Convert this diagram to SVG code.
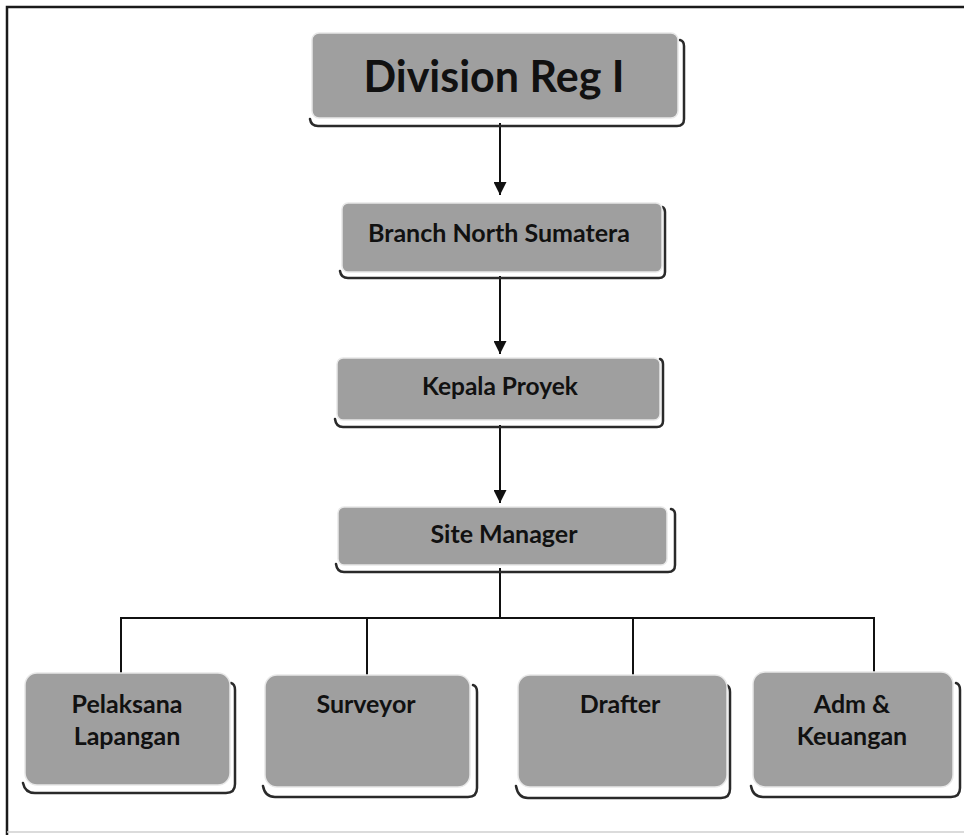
<svg xmlns="http://www.w3.org/2000/svg" width="964" height="835" viewBox="0 0 964 835">
<style>
.box{fill:#9f9f9f;stroke:#e8e8e8;stroke-width:1.5}
.sh{fill:none;stroke:#2a2a2a;stroke-width:2.5;stroke-linecap:round}
.t{font-family:Lato,"Liberation Sans",sans-serif;font-weight:bold;fill:#111111;text-anchor:middle}
.ln{fill:none;stroke:#111;stroke-width:2}
</style>
<defs>
<marker id="ah" markerWidth="15" markerHeight="13" refX="15" refY="7.5" orient="auto" markerUnits="userSpaceOnUse" viewBox="0 0 15 15">
<path d="M0,0 L15,7.5 L0,15 Z" fill="#111"/>
</marker>
</defs>
<rect width="964" height="835" fill="#ffffff"/>
<g id="frame">
<path d="M7,835 L7,7 L964,7" fill="none" stroke="#1a1a1a" stroke-width="2.5"/>
<line x1="7" y1="832" x2="964" y2="832" stroke="#cfcfcf" stroke-width="1.5"/>
</g>
<g id="connectors">
<line class="ln" x1="500" y1="123" x2="500" y2="195" marker-end="url(#ah)"/>
<line class="ln" x1="500" y1="276" x2="500" y2="354" marker-end="url(#ah)"/>
<line class="ln" x1="500" y1="425" x2="500" y2="503" marker-end="url(#ah)"/>
<line class="ln" x1="500" y1="568" x2="500" y2="618"/>
<line class="ln" x1="120" y1="618" x2="875" y2="618"/>
<line class="ln" x1="121" y1="618" x2="121" y2="673"/>
<line class="ln" x1="367" y1="618" x2="367" y2="675"/>
<line class="ln" x1="633" y1="618" x2="633" y2="675"/>
<line class="ln" x1="874" y1="618" x2="874" y2="672"/>
</g>
<g id="node-division">
<path class="sh" d="M310,119 Q311,126 318,126 L677,126 Q684,126 684,119 L684,46 Q684,41 680,40"/>
<rect class="box" x="312" y="33" width="366" height="85" rx="7"/>
<text class="t" x="494" y="92" font-size="43">Division Reg I</text>
</g>
<g id="node-branch">
<path class="sh" d="M340,271 Q341,278 348,278 L659,278 Q665,278 665,272 L665,212 Q665,208 662,207"/>
<rect class="box" x="342" y="203" width="320" height="69" rx="6"/>
<text class="t" x="499" y="242" font-size="25">Branch North Sumatera</text>
</g>
<g id="node-kepala">
<path class="sh" d="M335,419 Q336,427 343,427 L657,427 Q663,427 663,421 L663,364 Q663,360 660,359"/>
<rect class="box" x="337" y="358" width="323" height="62" rx="6"/>
<text class="t" x="500" y="395" font-size="24.5">Kepala Proyek</text>
</g>
<g id="node-site">
<path class="sh" d="M336,564 Q337,572 344,572 L668,572 Q675,572 675,565 L675,514 Q675,510 671,509"/>
<rect class="box" x="338" y="507" width="329" height="58" rx="6"/>
<text class="t" x="504" y="543" font-size="25">Site Manager</text>
</g>
<g id="node-pelaksana">
<path class="sh" d="M23,783 Q25,793 35,793 L226,793 Q235,793 235,784 L235,690 Q235,684 231,683"/>
<rect class="box" x="25" y="673" width="205" height="112" rx="12"/>
<text class="t" x="127" y="713" font-size="25">Pelaksana</text>
<text class="t" x="127" y="745" font-size="25">Lapangan</text>
</g>
<g id="node-surveyor">
<path class="sh" d="M263,786 Q265,797 275,797 L468,797 Q477,797 477,788 L477,692 Q477,686 473,685"/>
<rect class="box" x="265" y="675" width="205" height="112" rx="12"/>
<text class="t" x="366" y="713" font-size="25">Surveyor</text>
</g>
<g id="node-drafter">
<path class="sh" d="M516,786 Q518,798 528,798 L721,798 Q730,798 730,789 L730,692 Q730,686 726,685"/>
<rect class="box" x="518" y="675" width="209" height="112" rx="12"/>
<text class="t" x="620" y="713" font-size="25">Drafter</text>
</g>
<g id="node-adm">
<path class="sh" d="M751,786 Q753,797 763,797 L951,797 Q960,797 960,788 L960,690 Q960,684 956,683"/>
<rect class="box" x="753" y="672" width="200" height="115" rx="12"/>
<text class="t" x="852" y="713" font-size="25">Adm &amp;</text>
<text class="t" x="852" y="745" font-size="25">Keuangan</text>
</g>
</svg>
